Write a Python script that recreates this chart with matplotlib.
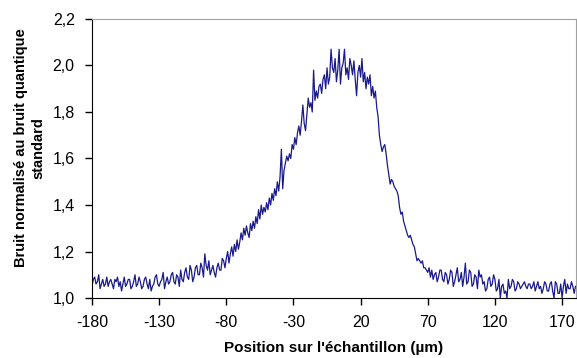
import numpy as np
import matplotlib
matplotlib.use("Agg")
import matplotlib.pyplot as plt
from matplotlib.ticker import FuncFormatter

x_start, x_step = -180, 1
noise = [
    1.05, 1.08, 1.09, 1.06, 1.07, 1.10, 1.04, 1.06, 1.08, 1.05,   # -180
    1.06, 1.09, 1.05, 1.07, 1.08, 1.06, 1.04, 1.08, 1.07, 1.09,   # -170
    1.05, 1.07, 1.03, 1.06, 1.09, 1.05, 1.06, 1.08, 1.08, 1.04,   # -160
    1.05, 1.07, 1.10, 1.05, 1.06, 1.09, 1.07, 1.04, 1.05, 1.08,   # -150
    1.09, 1.06, 1.04, 1.08, 1.03, 1.05, 1.06, 1.09, 1.10, 1.06,   # -140
    1.05, 1.07, 1.08, 1.11, 1.04, 1.07, 1.09, 1.06, 1.07, 1.10,   # -130
    1.11, 1.07, 1.06, 1.10, 1.09, 1.05, 1.12, 1.08, 1.07, 1.11,   # -120
    1.13, 1.09, 1.08, 1.14, 1.12, 1.07, 1.09, 1.13, 1.14, 1.10,   # -110
    1.10, 1.15, 1.13, 1.09, 1.19, 1.14, 1.12, 1.16, 1.10, 1.12,   # -100
    1.14, 1.11, 1.09, 1.13, 1.15, 1.12, 1.12, 1.17, 1.16, 1.13,   # -90
    1.17, 1.20, 1.15, 1.19, 1.22, 1.18, 1.23, 1.20, 1.25, 1.21,   # -80
    1.24, 1.28, 1.25, 1.30, 1.27, 1.31, 1.28, 1.26, 1.32, 1.29,   # -70
    1.33, 1.30, 1.35, 1.32, 1.38, 1.34, 1.40, 1.36, 1.39, 1.37,   # -60
    1.41, 1.38, 1.43, 1.40, 1.45, 1.42, 1.47, 1.44, 1.50, 1.46,   # -50
    1.52, 1.64, 1.47, 1.55, 1.58, 1.61, 1.59, 1.62, 1.60, 1.66,   # -40
    1.64, 1.69, 1.66, 1.71, 1.74, 1.70, 1.76, 1.83, 1.75, 1.72,   # -30
    1.79, 1.86, 1.82, 1.84, 1.80, 1.98, 1.85, 1.89, 1.86, 1.91,   # -20
    1.92, 1.88, 1.94, 1.96, 1.90, 1.99, 1.92, 1.95, 2.07, 1.99,   # -10
    1.97, 2.03, 1.93, 1.98, 2.07, 1.92, 1.99, 2.01, 2.07, 1.96,   # 0
    1.99, 1.94, 2.03, 2.00, 1.96, 2.02, 1.94, 1.87, 1.97, 2.00,   # 10
    1.95, 2.03, 1.93, 1.97, 1.90, 1.95, 1.92, 1.96, 1.87, 1.91,   # 20
    1.86, 1.89, 1.82, 1.78, 1.70, 1.66, 1.63, 1.65, 1.66, 1.62,   # 30
    1.57, 1.53, 1.49, 1.51, 1.50, 1.48, 1.47, 1.46, 1.44, 1.39,   # 40
    1.36, 1.37, 1.33, 1.31, 1.29, 1.27, 1.26, 1.27, 1.25, 1.23,   # 50
    1.22, 1.19, 1.16, 1.17, 1.16, 1.15, 1.16, 1.13, 1.13, 1.12,   # 60
    1.11, 1.13, 1.09, 1.12, 1.08, 1.10, 1.11, 1.07, 1.09, 1.12,   # 70
    1.12, 1.08, 1.07, 1.11, 1.10, 1.06, 1.08, 1.12, 1.11, 1.05,   # 80
    1.07, 1.10, 1.13, 1.07, 1.08, 1.11, 1.05, 1.09, 1.15, 1.06,   # 90
    1.07, 1.12, 1.11, 1.05, 1.06, 1.10, 1.09, 1.04, 1.12, 1.09,   # 100
    1.10, 1.06, 1.07, 1.03, 1.04, 1.08, 1.09, 1.05, 1.06, 1.10,   # 110
    1.08, 1.03, 1.04, 1.08, 1.00, 1.05, 1.06, 1.02, 1.03, 1.00,   # 120
    1.08, 1.04, 1.05, 1.08, 1.07, 1.03, 1.04, 1.07, 1.06, 1.04,   # 130
    1.05, 1.06, 1.07, 1.05, 1.04, 1.06, 1.06, 1.04, 1.05, 1.07,   # 140
    1.03, 1.05, 1.07, 1.04, 1.05, 1.02, 1.04, 1.07, 1.06, 1.03,   # 150
    1.03, 1.06, 1.07, 1.03, 1.00, 1.07, 1.06, 1.02, 1.02, 1.06,   # 160
    1.00, 1.05, 1.08, 1.02, 1.06, 1.04, 1.04, 1.07, 1.05, 1.02,   # 170
    1.05,                                                         # 180
]
positions = x_start + x_step * np.arange(len(noise))

x_ticks = [-180, -130, -80, -30, 20, 70, 120, 170]
y_ticks = [1.0, 1.2, 1.4, 1.6, 1.8, 2.0, 2.2]

plt.rcParams['font.family'] = ['Liberation Sans', 'DejaVu Sans']
plt.rcParams['axes.unicode_minus'] = False

fig = plt.figure(figsize=(5.77, 3.58), dpi=100)
ax = fig.add_axes([92/577, 1 - 298/358, (575.5 - 92)/577, (298 - 19)/358])
ax.plot(positions, noise, color='#1a1a8c', lw=0.9)

ax.set_xlim(-180, 180)
ax.set_ylim(1.0, 2.2)
ax.set_xticks(x_ticks)
ax.set_yticks(y_ticks)
ax.yaxis.set_major_formatter(FuncFormatter(lambda v, p: f"{v:.1f}".replace('.', ',')))
ax.tick_params(axis='both', direction='out', length=5, width=1, labelsize=11.5, colors='black')
ax.tick_params(axis='y', pad=7.5)
ax.tick_params(axis='x', pad=7.5)
for s in ['top', 'right']:
    ax.spines[s].set_color('#a0a0a0')
for s in ['left', 'bottom']:
    ax.spines[s].set_color('black')

ax.set_xlabel("Position sur l'échantillon (µm)", fontsize=11, fontweight='bold', labelpad=8)
fig.text(0.052, 1 - 148/358,
         "Bruit normalisé au bruit quantique\nstandard",
         rotation=90, ha='center', va='center', fontsize=10.5, fontweight='bold',
         multialignment='center', linespacing=1.3)

fig.savefig('out.png', dpi=100)
